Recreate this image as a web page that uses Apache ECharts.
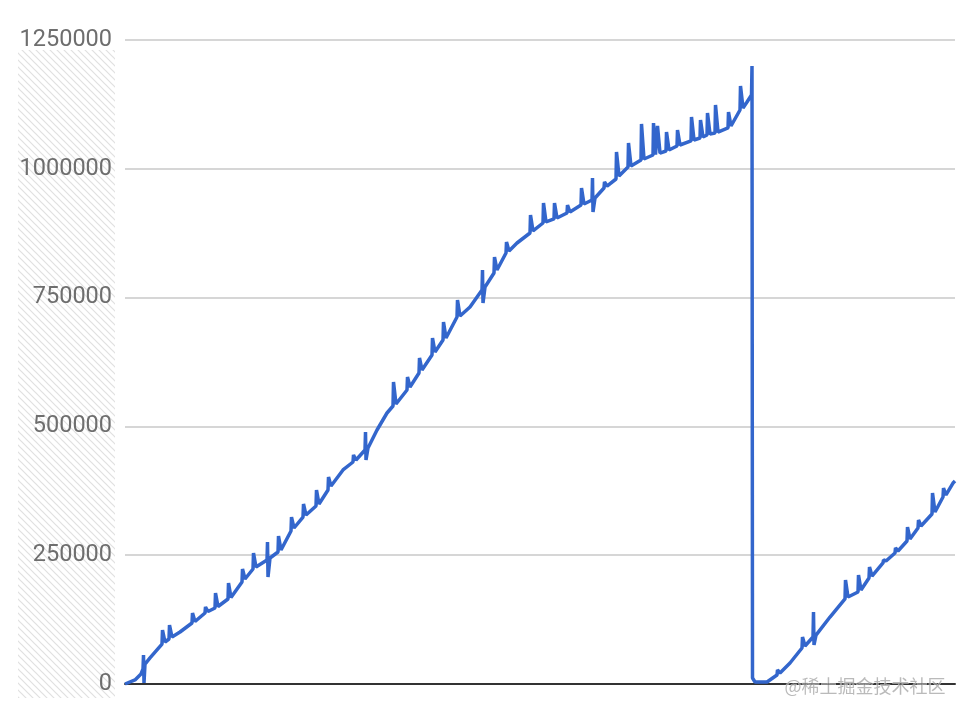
<!DOCTYPE html>
<html>
<head>
<meta charset="utf-8">
<script src="https://cdn.jsdelivr.net/npm/echarts@6/dist/echarts.min.js"></script>
<style>html,body{margin:0;padding:0;background:#fff}#c{width:966px;height:718px}</style>
</head>
<body>
<div id="c"></div>
<script>
// x positions (day index) and values
const days = [
  0, 10, 16, 18, 18.5, 19, 20, 25,
  37, 37.5, 40, 44, 44.5, 47, 55,
  67, 67.5, 70, 80, 80.5, 83, 90, 90.5, 93,
  103, 103.5, 106, 117, 117.5, 120, 128, 128.5, 131,
  142, 142.5, 143, 145, 153, 153.5, 156, 166, 166.5, 169,
  178, 178.5, 181, 191, 191.5, 194, 203, 203.5, 206, 218,
  228, 228.5, 231, 240, 240.5, 241, 243, 252, 262,
  268, 268.5, 271, 282, 282.5, 285, 294, 294.5, 297,
  307, 307.5, 310, 318, 318.5, 321, 332, 332.5, 335, 345,
  357, 357.5, 358, 360, 369, 369.5, 372, 381, 381.5, 384, 392,
  405, 405.5, 408, 418, 418.5, 421, 429, 429.5, 432,
  442, 442.5, 445, 456, 456.5, 459, 467, 467.5, 468, 470,
  479, 479.5, 482, 491, 491.5, 494, 503, 503.5, 506,
  516, 516.5, 519, 528, 528.5, 530.5, 532, 532.5, 535,
  541, 541.5, 544, 552, 552.5, 555, 566, 566.5, 569,
  575, 575.5, 578, 582, 582.5, 585, 590, 590.5, 593,
  603, 603.5, 606, 615, 615.5, 618, 622, 626.5, 627, 627.5,
  630, 642, 652, 652.5, 655, 665, 677, 677.5, 680,
  688, 688.5, 689, 691, 705, 720, 720.5, 723, 733, 733.5, 736,
  744, 744.5, 747, 758, 758.5, 761, 770, 770.5, 773,
  782, 782.5, 785, 793, 793.5, 796, 807, 807.5, 810,
  818, 818.5, 821, 828, 830
];
const values = [
  0, 7800, 19400, 29100, 56300, 1900, 38800, 50500,
  77600, 104800, 81500, 87300, 114500, 91200, 100900,
  118400, 137800, 121300, 137800, 149500, 140700, 147500, 176600, 150400,
  165000, 196000, 167900, 198000, 223200, 203800, 223200, 254300, 227100,
  240700, 275600, 207700, 244600, 256200, 287300, 260100, 297000, 324100, 302800,
  324100, 349400, 328000, 345500, 376600, 349400, 376600, 401800, 384300, 415400,
  430900, 444500, 434800, 454200, 489100, 434800, 458100, 493000, 526000,
  539600, 586200, 543500, 570700, 595900, 576500, 603700, 632800, 609500,
  638600, 671600, 644400, 667700, 702600, 671600, 712300, 745300, 714200, 731800,
  764800, 803600, 739500, 770600, 797700, 828800, 803600, 836600, 857900, 840500, 856000,
  875400, 910300, 879300, 894800, 933600, 896800, 902600, 933600, 904500,
  914200, 929700, 916200, 929700, 962700, 931700, 939400, 982100, 916200, 943300,
  962700, 974400, 966600, 980200, 1032600, 986000, 1003500, 1050100, 1005500,
  1017100, 1087000, 1019000, 1026800, 1088900, 1027700, 1028700, 1083100, 1030600,
  1034500, 1071400, 1036500, 1044300, 1075300, 1046200, 1054000, 1100500, 1055900,
  1059800, 1094700, 1061700, 1065600, 1108300, 1067500, 1069500, 1123800, 1071400,
  1079200, 1110200, 1083100, 1114100, 1160700, 1118000, 1129700, 1143200, 1199500, 11600,
  3900, 3900, 17500, 27200, 21300, 40800, 69900, 91200, 73800,
  91200, 139800, 75700, 95000, 130000, 165000, 201900, 168900, 178600, 211600, 182500,
  205700, 227100, 209600, 234900, 240700, 238800, 254300, 264000, 258200,
  277600, 304700, 281500, 302800, 318300, 306700, 330000, 370700, 333900,
  363000, 380400, 366900, 390100, 394000
];
const yTicks = [0, 250000, 500000, 750000, 1000000, 1250000];

const seriesData = days.map((d, i) => [d, values[i]]);

// hatch pattern
const pc = document.createElement('canvas');
pc.width = 7; pc.height = 7;
const ctx = pc.getContext('2d');
ctx.strokeStyle = '#e0e0e0';
ctx.lineWidth = 1.2;
ctx.beginPath();
ctx.moveTo(-1, -1); ctx.lineTo(8, 8);
ctx.moveTo(-1, 6); ctx.lineTo(1, 8);
ctx.moveTo(6, -1); ctx.lineTo(8, 1);
ctx.stroke();

const chart = echarts.init(document.getElementById('c'), null, {renderer: 'canvas'});
chart.setOption({
  animation: false,
  backgroundColor: '#ffffff',
  grid: {left: 125, right: 11, top: 40, bottom: 34, containLabel: false},
  graphic: [
    {type: 'rect', z: -10, silent: true,
     shape: {x: 18, y: 50, width: 97, height: 648},
     style: {fill: {image: pc, repeat: 'repeat'}}},
    {type: 'text', z: 100, left: 784, top: 677, silent: true,
     style: {text: '@稀土掘金技术社区', fontSize: 18, fontFamily: 'Noto Sans CJK SC',
             fill: 'rgba(130,130,130,0.55)', stroke: 'rgba(255,255,255,0.6)', lineWidth: 1}}
  ],
  xAxis: {
    type: 'value', min: 0, max: 830,
    axisLine: {show: true, lineStyle: {color: '#333333', width: 2}},
    axisTick: {show: false}, axisLabel: {show: false}, splitLine: {show: false}
  },
  yAxis: {
    type: 'value', min: yTicks[0], max: yTicks[yTicks.length - 1], interval: 250000,
    axisLine: {show: false}, axisTick: {show: false},
    axisLabel: {color: '#6e6e6e', fontSize: 23.5, fontFamily: 'Roboto', margin: 13,
                formatter: v => String(v)},
    splitLine: {lineStyle: {color: '#c8c8c8', width: 1.5}}
  },
  series: [{
    type: 'line', data: seriesData, showSymbol: false, symbol: 'none',
    lineStyle: {color: '#3366cc', width: 3.5},
    z: 5
  }]
});
</script>
</body>
</html>
